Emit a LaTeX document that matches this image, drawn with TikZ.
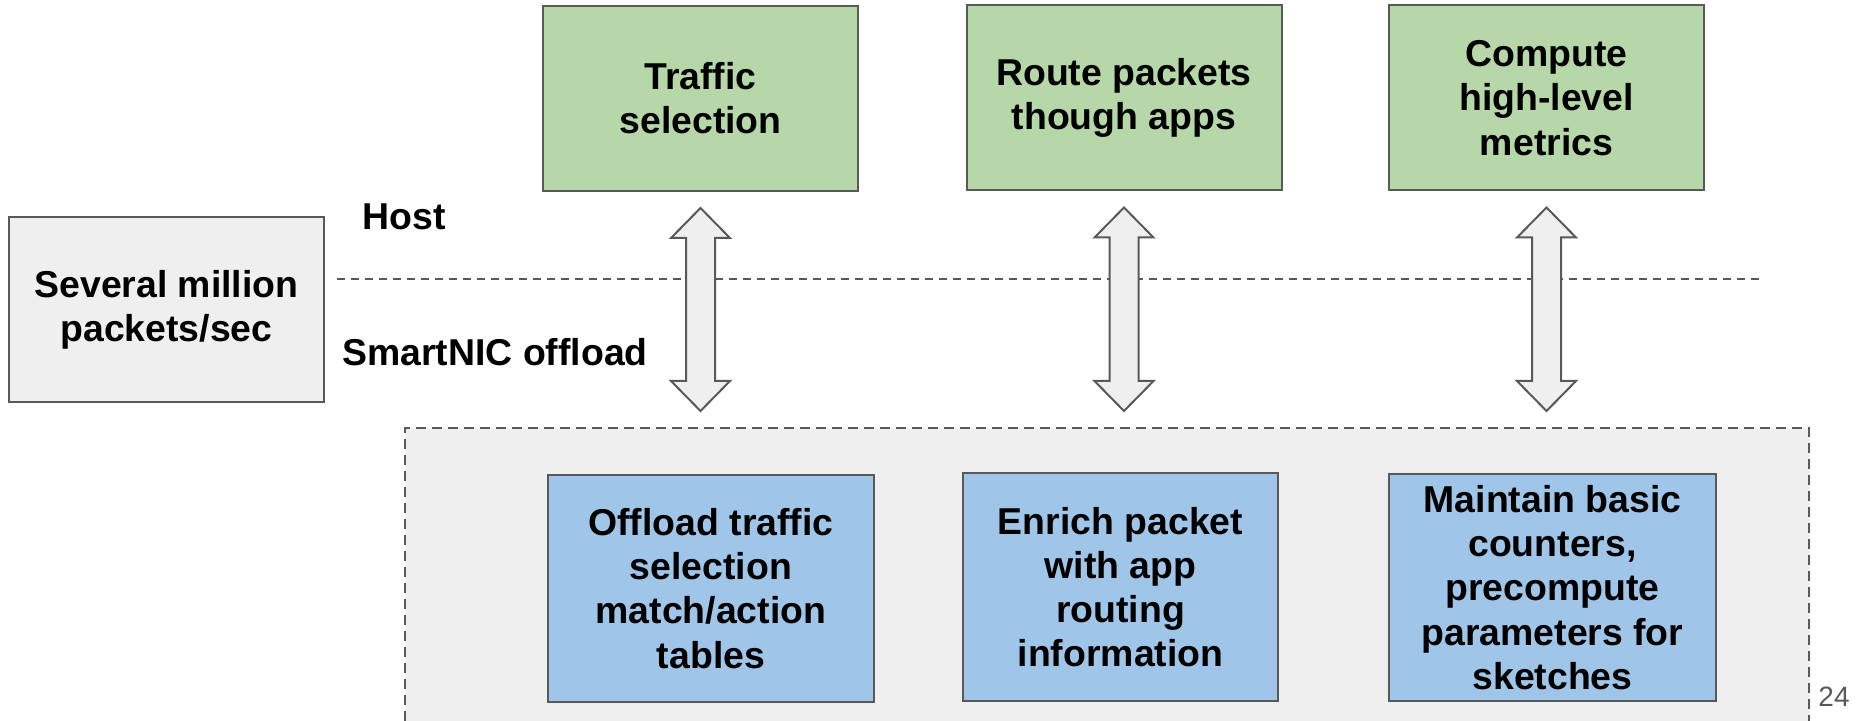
\documentclass[tikz,border=0pt]{standalone}
\usepackage{fontspec}
\setmainfont{Liberation Sans}
\usetikzlibrary{calc}

\definecolor{hostgreen}{HTML}{B6D7A8}
\definecolor{nicblue}{HTML}{9FC5E8}
\definecolor{panelgray}{HTML}{EFEFEF}
\definecolor{edgegray}{HTML}{595959}

\tikzset{
  box/.style={draw=edgegray,line width=1pt,align=center,inner sep=0pt,
    font=\fontsize{18.7}{22.1}\selectfont\bfseries},
  hostbox/.style={box,fill=hostgreen,minimum width=157.5pt,minimum height=92.5pt},
  nicbox/.style={box,fill=nicblue,minimum width=161pt,minimum height=113.5pt},
  inbox/.style={box,fill=panelgray,minimum width=157.5pt,minimum height=92.5pt},
  tag/.style={font=\fontsize{18.7}{22.1}\selectfont\bfseries},
  dblarrow/.style={draw=edgegray,fill=panelgray,line width=1pt,line join=miter},
}

\begin{document}
\begin{tikzpicture}[x=0.5pt,y=-0.5pt]
    \useasboundingbox (0,0) rectangle (1859,721);

    % smartnic area, runs off the bottom edge
    \fill[panelgray] (405,428) rectangle (1809,721);
    \draw[edgegray,line width=1pt,dash pattern=on 5pt off 3pt] (405,721) -- (405,428) -- (1809,428) -- (1809,721);
    \coordinate (nictop) at (0,428);

    % host / nic divider
    \coordinate (divl) at (337,279);
    \coordinate (divr) at (1759,279);
    \draw[edgegray,line width=0.7pt,dash pattern=on 4pt off 3pt] (divl) -- (divr);

    \node[inbox] (pktrate) at (166.5,309.5) {Several million\\packets/sec};
    \node[tag] (hostlbl) at (404,217) {Host};
    \node[tag] (niclbl) at (495,352) {SmartNIC offload};

    % host side
    \node[hostbox] (trafficsel) at (700.5,98.5) {Traffic\\selection};
    \node[hostbox] (routeapps) at (1124,98) {Route packets\\though apps};
    \node[hostbox] (metrics) at (1546.5,98) {Compute\\high-level\\metrics};

    % nic side
    \node[nicbox,minimum width=163pt] (offloadsel) at (711,588.5) {Offload traffic\\selection\\match/action\\tables};
    \node[nicbox,minimum width=157.5pt] (enrich) at (1120.5,587) {Enrich packet\\with app\\routing\\information};
    \node[nicbox,minimum width=163.5pt] (counters) at (1552.5,587.5) {Maintain basic\\counters,\\precompute\\parameters for\\sketches};

    \foreach \n in {trafficsel,routeapps,metrics} {
        \path ($(\n.south)+(0,16)$) coordinate (\n-top);
        \path (\n-top |- nictop) ++(0,-17) coordinate (\n-bot);
        \draw[dblarrow] (\n-top) -- ++(29.5,30) -- ++(-15,0) -- ($(\n-bot)+(14.5,-30)$) -- ++(15,0)
            -- (\n-bot) -- ++(-29.5,-30) -- ++(15,0) -- ($(\n-top)+(-14.5,30)$) -- ++(-15,0) -- cycle;
    }

    \node[text=edgegray,font=\fontsize{14}{16}\selectfont] (pageno) at (1834,697) {24};
\end{tikzpicture}
\end{document}
